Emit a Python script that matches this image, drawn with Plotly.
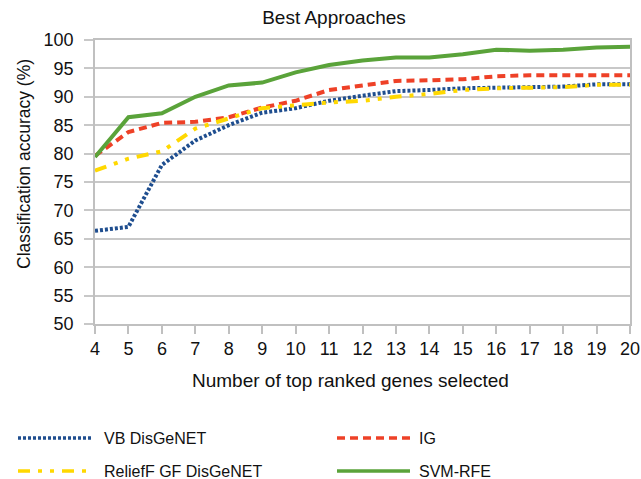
import plotly.graph_objects as go

genes = list(range(4, 21))
vb_disgenet = [66.4, 67.1, 78.0, 82.3, 85.0, 87.2, 88.0, 89.3, 90.2, 91.0, 91.2, 91.5, 91.6, 91.7, 91.8, 92.2, 92.2]
ig = [79.6, 83.8, 85.4, 85.6, 86.4, 88.1, 89.3, 91.2, 92.0, 92.8, 92.9, 93.1, 93.6, 93.8, 93.8, 93.8, 93.8]
relieff_gf = [77.0, 79.1, 80.4, 84.4, 86.2, 88.0, 88.5, 89.0, 89.3, 90.0, 90.5, 91.2, 91.5, 91.6, 91.7, 92.1, 92.1]
svm_rfe = [79.4, 86.4, 87.1, 90.0, 92.0, 92.5, 94.3, 95.6, 96.4, 96.9, 96.9, 97.5, 98.3, 98.1, 98.3, 98.7, 98.8]

names = ["VB DisGeNET", "IG", "ReliefF GF DisGeNET", "SVM-RFE"]
colors = ["#1f4e8f", "#ee4127", "#ffd800", "#5aa33a"]
dashes = ["3px,2px", "8px,5px", "12px,8px,4px,8px,4px,8px", "solid"]
series = [vb_disgenet, ig, relieff_gf, svm_rfe]

FONT = "Liberation Sans, Arial, Helvetica, sans-serif"
W, H = 641, 479
# plot area in page pixels: x 95..630, y 40..324
L, T = 95, 40
R = W - 630
B = H - 324

fig = go.Figure()
for name, ys, c, d in zip(names, series, colors, dashes):
    fig.add_trace(go.Scatter(x=genes, y=ys, mode="lines", name=name,
                             line=dict(color=c, width=4, dash=d), showlegend=False))

pw = W - L - R
ph = H - T - B
def px2x(px):
    return (px - L) / pw
def py2y(py):
    return (T + ph - py) / ph

# manual legend (2 columns), page pixel positions
legend_pos = [(18, 92, 102, 438), (337, 410, 417, 438), (18, 92, 102, 471), (337, 410, 417, 471)]
shapes = []
annots = []
for (x0, x1, tx, yy), name, c, d in zip(legend_pos, names, colors, dashes):
    shapes.append(dict(type="line", xref="paper", yref="paper", x0=px2x(x0), x1=px2x(x1),
                       y0=py2y(yy), y1=py2y(yy), line=dict(color=c, width=3.5, dash=d)))
    annots.append(dict(xref="paper", yref="paper", x=px2x(tx), y=py2y(yy), text=name,
                       showarrow=False, xanchor="left", yanchor="middle",
                       font=dict(size=16, color="#111", family=FONT)))

# axis titles as annotations (offset from plot centre as in reference)
annots.append(dict(xref="paper", yref="paper", x=px2x(350), y=py2y(380),
                   text="Number of top ranked genes selected", showarrow=False,
                   xanchor="center", yanchor="middle",
                   font=dict(size=19, color="#111", family=FONT)))
annots.append(dict(xref="paper", yref="paper", x=px2x(24), y=py2y(164),
                   text="Classification accuracy (%)", showarrow=False, textangle=-90,
                   xanchor="center", yanchor="middle",
                   font=dict(size=17.5, color="#111", family=FONT)))

fig.update_layout(
    width=W, height=H,
    margin=dict(l=L, r=R, t=T, b=B, autoexpand=False),
    paper_bgcolor="white", plot_bgcolor="white",
    font=dict(family=FONT, color="#111"),
    title=dict(text="Best Approaches", x=334 / W, xanchor="center", y=1 - 17 / H,
               yanchor="middle", font=dict(size=19, color="#111", family=FONT)),
    shapes=shapes, annotations=annots,
    xaxis=dict(range=[4, 20], tickmode="array", tickvals=genes, ticktext=[str(g) for g in genes],
               automargin=False,
               showgrid=False, zeroline=False, showline=True, linecolor="#c0c0c0", linewidth=1.5,
               mirror=True, ticks="outside", ticklen=8, tickcolor="#c0c0c0", tickwidth=1.5,
               tickfont=dict(size=18, color="#111", family=FONT)),
    yaxis=dict(range=[50, 100], tickmode="array", tickvals=list(range(50, 101, 5)),
               automargin=False, ticklabelstandoff=7,
               showgrid=True, gridcolor="#c8c8c8", gridwidth=1.5, zeroline=False,
               showline=True, linecolor="#c0c0c0", linewidth=1.5, mirror=True,
               ticks="outside", ticklen=9, tickcolor="#c8c8c8", tickwidth=1.5,
               tickfont=dict(size=18, color="#111", family=FONT)),
)

fig.write_html("out.html", config={"displayModeBar": False},
               post_script="document.body.style.margin='0';document.body.style.overflow='hidden';")
